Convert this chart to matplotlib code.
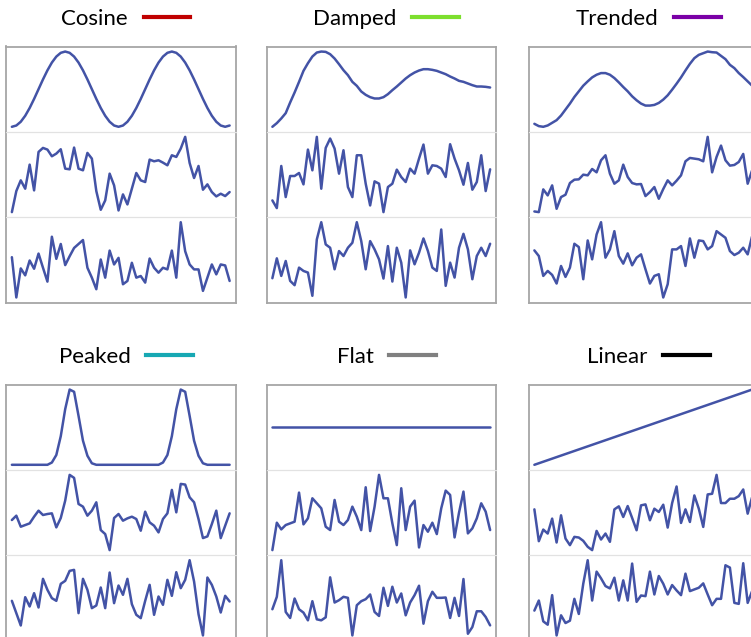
import matplotlib
matplotlib.use("Agg")
import matplotlib.pyplot as plt
from matplotlib.lines import Line2D

# ---- data ---------------------------------------------------------------
titles = ["Cosine", "Damped", "Trended", "Peaked", "Flat", "Linear"]
key_colors = ["#c00000", "#7ddf2e", "#7a00a6", "#17a8b3", "#808080", "#000000"]

cosine_signal = [-1.0, -0.966, -0.866, -0.707, -0.5, -0.259, 0.0, 0.259, 0.5, 0.707,
                 0.866, 0.966, 1.0, 0.966, 0.866, 0.707, 0.5, 0.259, 0.0, -0.259,
                 -0.5, -0.707, -0.866, -0.966, -1.0, -0.966, -0.866, -0.707, -0.5, -0.259,
                 0.0, 0.259, 0.5, 0.707, 0.866, 0.966, 1.0, 0.966, 0.866, 0.707,
                 0.5, 0.259, 0.0, -0.259, -0.5, -0.707, -0.866, -0.966, -1.0, -0.966]
cosine_noisy_a = [15, 78, 110, 85, 157, 80, 195, 207, 202, 182, 190, 203, 145, 143, 208, 145, 140,
                  192, 175, 78, 22, 50, 130, 95, 20, 68, 38, 85, 132, 110, 105, 172, 167, 170,
                  163, 155, 185, 180, 205, 240, 162, 117, 153, 82, 98, 75, 62, 70, 63, 75]
cosine_noisy_b = [142, 20, 108, 87, 132, 107, 153, 110, 68, 204, 137, 182, 118, 145, 170, 182, 194,
                  110, 80, 45, 135, 80, 162, 120, 140, 60, 70, 125, 80, 85, 65, 138, 110, 95,
                  110, 105, 162, 80, 248, 160, 120, 105, 105, 40, 80, 120, 90, 120, 117, 70]

damped_signal = [17, 28, 42, 58, 90, 120, 152, 185, 208, 228, 240, 243, 242, 235, 222, 205, 187,
                 172, 152, 140, 123, 113, 106, 102, 102, 106, 115, 127, 138, 150, 162, 172, 180,
                 186, 190, 190, 188, 185, 180, 175, 168, 162, 155, 152, 147, 142, 138, 138, 137, 135]
damped_noisy_a = [50, 27, 153, 60, 123, 123, 132, 98, 202, 140, 240, 85, 207, 235, 205, 130, 200,
                  90, 60, 185, 185, 100, 35, 107, 100, 15, 90, 100, 142, 120, 105, 145, 130, 175,
                  217, 130, 155, 153, 145, 120, 218, 175, 140, 97, 162, 82, 105, 185, 78, 143]
damped_noisy_b = [78, 138, 85, 130, 70, 57, 110, 100, 95, 25, 195, 247, 180, 170, 105, 160, 145,
                  170, 185, 247, 190, 105, 190, 165, 135, 77, 175, 68, 170, 125, 20, 162, 120, 155,
                  198, 160, 110, 100, 225, 55, 125, 80, 170, 212, 165, 75, 145, 170, 145, 182]

trended_signal = [27, 20, 18, 22, 30, 38, 52, 70, 88, 108, 125, 142, 155, 167, 175, 180, 180, 175,
                  165, 152, 138, 125, 110, 98, 88, 82, 82, 84, 90, 100, 113, 130, 148, 167, 188,
                  208, 225, 235, 240, 245, 243, 242, 232, 222, 205, 195, 180, 168, 155, 142]
trended_noisy_a = [17, 15, 83, 65, 95, 25, 60, 67, 102, 112, 113, 127, 125, 144, 134, 170, 185, 130,
                   100, 110, 157, 120, 102, 98, 99, 63, 75, 90, 55, 84, 110, 95, 109, 125, 167, 177,
                   175, 173, 167, 240, 134, 180, 214, 170, 154, 156, 165, 189, 100, 140]
trended_noisy_b = [162, 145, 85, 100, 88, 62, 115, 82, 110, 182, 172, 75, 192, 135, 210, 247, 140,
                   165, 220, 145, 122, 153, 117, 140, 150, 105, 62, 85, 90, 20, 60, 165, 165, 175,
                   115, 198, 140, 192, 190, 165, 175, 220, 210, 200, 160, 148, 155, 170, 150, 205]

peaked_signal = [0, 0, 0, 0, 0, 0, 0, 0, 0, 0.03, 0.13, 0.38, 0.74, 1.0, 0.97, 0.65, 0.32, 0.12,
                 0.02, 0, 0, 0, 0, 0, 0, 0, 0, 0, 0, 0, 0, 0, 0, 0, 0.03, 0.13, 0.38, 0.74, 1.0,
                 0.97, 0.65, 0.32, 0.12, 0.02, 0, 0, 0, 0, 0, 0]
peaked_noisy_a = [102, 115, 82, 87, 92, 112, 130, 117, 120, 122, 80, 108, 160, 237, 228, 150, 142,
                  115, 130, 155, 72, 60, 12, 108, 120, 100, 107, 112, 105, 70, 127, 95, 85, 65,
                  105, 122, 192, 125, 210, 208, 170, 155, 105, 48, 53, 90, 130, 48, 85, 122]
peaked_noisy_b = [117, 80, 43, 128, 100, 140, 97, 183, 150, 125, 117, 168, 177, 207, 210, 80, 183,
                  150, 95, 103, 157, 95, 202, 110, 163, 135, 183, 107, 75, 65, 117, 165, 75, 130,
                  105, 180, 132, 203, 155, 180, 239, 175, 77, 13, 187, 165, 130, 82, 132, 115]

flat_signal = [1.0, 1.0, 1.0, 1.0, 1.0, 1.0, 1.0, 1.0, 1.0, 1.0, 1.0, 1.0, 1.0, 1.0, 1.0, 1.0, 1.0,
               1.0, 1.0, 1.0, 1.0, 1.0, 1.0, 1.0, 1.0, 1.0, 1.0, 1.0, 1.0, 1.0, 1.0, 1.0, 1.0, 1.0,
               1.0, 1.0, 1.0, 1.0, 1.0, 1.0, 1.0, 1.0, 1.0, 1.0, 1.0, 1.0, 1.0, 1.0, 1.0, 1.0]
flat_noisy_a = [10, 92, 72, 85, 90, 95, 182, 87, 105, 165, 150, 135, 80, 70, 160, 95, 85, 100, 140,
                110, 70, 198, 67, 140, 235, 165, 165, 90, 25, 195, 70, 140, 158, 18, 85, 65, 92,
                58, 135, 188, 175, 48, 122, 185, 60, 75, 105, 150, 125, 70]
flat_noisy_b = [93, 130, 239, 85, 67, 125, 93, 83, 60, 117, 63, 60, 69, 188, 113, 120, 130, 127, 15,
                105, 117, 123, 137, 85, 73, 157, 103, 160, 113, 140, 75, 113, 135, 163, 50, 117,
                145, 127, 127, 128, 67, 127, 73, 183, 20, 40, 87, 87, 70, 45]

linear_signal = [0, 1, 2, 3, 4, 5, 6, 7, 8, 9, 10, 11, 12, 13, 14, 15, 16, 17, 18, 19, 20, 21, 22,
                 23, 24, 25, 26, 27, 28, 29, 30, 31, 32, 33, 34, 35, 36, 37, 38, 39, 40, 41, 42,
                 43, 44, 45, 46, 47, 48, 49]
linear_noisy_a = [133, 37, 72, 60, 105, 33, 115, 45, 25, 50, 48, 38, 20, 10, 68, 42, 60, 35, 133,
                  142, 110, 143, 107, 70, 145, 148, 100, 135, 125, 147, 78, 152, 202, 92, 133, 95,
                  175, 135, 80, 178, 180, 237, 152, 152, 165, 165, 173, 193, 120, 170]
linear_noisy_b = [87, 117, 55, 45, 133, 13, 73, 50, 57, 122, 77, 167, 237, 117, 203, 183, 160, 153,
                  185, 117, 177, 117, 227, 113, 132, 130, 203, 135, 190, 167, 135, 163, 147, 133,
                  197, 145, 150, 155, 168, 135, 103, 122, 122, 222, 215, 110, 107, 228, 110, 145]

panels = [
    (cosine_signal, cosine_noisy_a, cosine_noisy_b),
    (damped_signal, damped_noisy_a, damped_noisy_b),
    (trended_signal, trended_noisy_a, trended_noisy_b),
    (peaked_signal, peaked_noisy_a, peaked_noisy_b),
    (flat_signal, flat_noisy_a, flat_noisy_b),
    (linear_signal, linear_noisy_a, linear_noisy_b),
]

# ---- layout (pixels) ----------------------------------------------------
W, H = 751, 637
plt.rcParams["font.family"] = ["Lato", "DejaVu Sans"]
fig = plt.figure(figsize=(W / 100, H / 100), dpi=100)

line_color = "#4353a6"
frame_color = "#a6a6a6"
divider_color = "#e2e2e2"

col_left = [6.0, 266.5, 528.5]
row_top = [46.5, 384.5]
title_y = [19.0, 357.0]
panel_w, panel_h = 229.5, 256.0
band_h = panel_h / 3

for k, (series, title, kc) in enumerate(zip(panels, titles, key_colors)):
    r, c = divmod(k, 3)
    x0 = col_left[c]
    for b, values in enumerate(series):
        top = row_top[r] + b * band_h
        ax = fig.add_axes([x0 / W, 1 - (top + band_h) / H, panel_w / W, band_h / H])
        ax.plot(range(len(values)), values, color=line_color, lw=1.8,
                solid_joinstyle="round", solid_capstyle="round")
        ax.margins(x=0.027, y=0.067)
        ax.set_xticks([])
        ax.set_yticks([])
        ax.set_facecolor("none")
        for side in ("left", "right"):
            ax.spines[side].set_color(frame_color)
            ax.spines[side].set_linewidth(1.3)
        ax.spines["top"].set_color(frame_color if b == 0 else divider_color)
        ax.spines["top"].set_linewidth(1.3 if b == 0 else 0.9)
        ax.spines["bottom"].set_visible(b == 2)
        ax.spines["bottom"].set_color(frame_color)
        ax.spines["bottom"].set_linewidth(1.3)

    cx = (x0 + panel_w / 2 + 5) / W
    cy = 1 - title_y[r] / H
    fig.legend(handles=[Line2D([], [], color=kc, lw=3.0)], labels=[title],
               loc="center", bbox_to_anchor=(cx, cy), bbox_transform=fig.transFigure,
               frameon=False, markerfirst=False, handlelength=2.1, handletextpad=0.7,
               fontsize=16, borderpad=0, borderaxespad=0)

fig.savefig("out.png", dpi=100)
